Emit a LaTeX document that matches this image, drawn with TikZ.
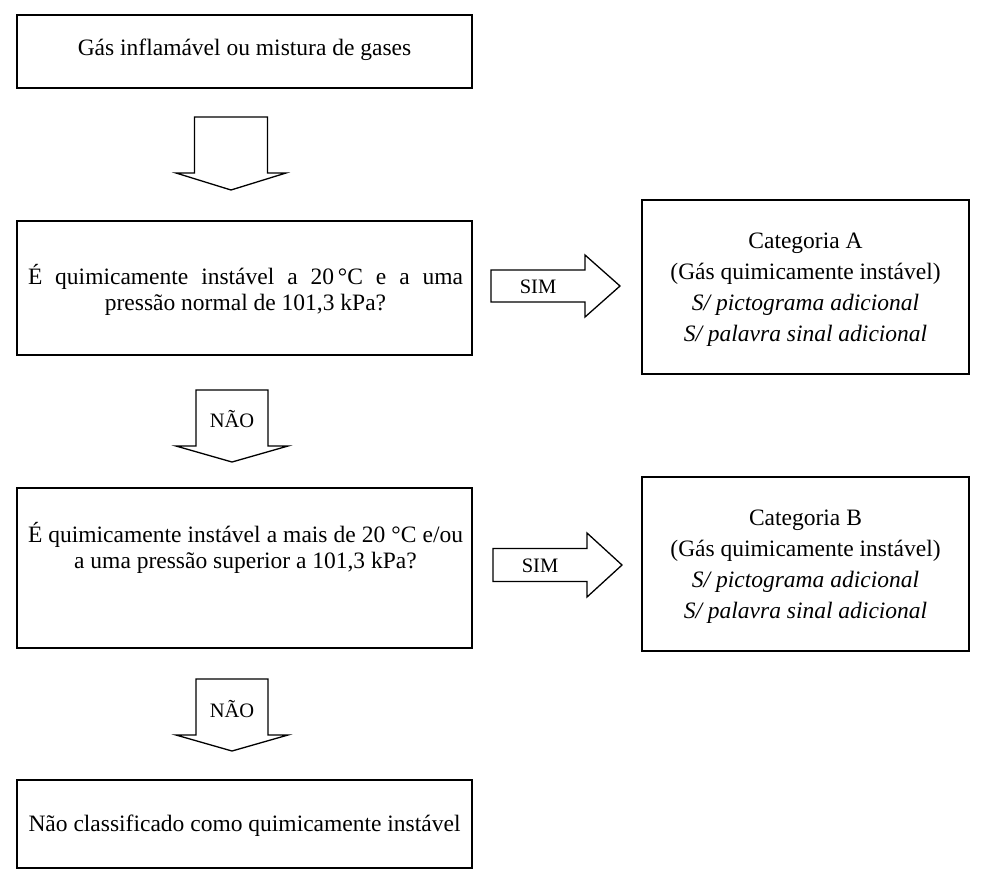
\documentclass[tikz,border=0pt]{standalone}
\usepackage{fontspec}
\setmainfont{Liberation Serif}
\newcommand\blkdown[6]{% center x, half shaft, half head, top y, wing y, tip y
  \draw[barrow] (#1-#2,#4) -- (#1+#2,#4) -- (#1+#2,#5) -- (#1+#3,#5) -- (#1,#6) -- (#1-#3,#5) -- (#1-#2,#5) -- cycle;}
\newcommand\blkright[6]{% center y, half shaft, half head, left x, base x, tip x
  \draw[barrow] (#4,#1-#2) -- (#5,#1-#2) -- (#5,#1-#3) -- (#6,#1) -- (#5,#1+#3) -- (#5,#1+#2) -- (#4,#1+#2) -- cycle;}
\begin{document}
\begin{tikzpicture}[x=1pt,y=-1pt,
  box/.style={draw, line width=1.5pt, inner sep=0pt},
  barrow/.style={draw, line width=1.3pt, line join=miter, fill=white},
  txt/.style={font=\fontsize{23.5}{26}\selectfont, align=center, inner sep=0pt},
  lbl/.style={font=\fontsize{20.5}{26}\selectfont, align=center, inner sep=0pt},
  cattxt/.style={font=\fontsize{23.5}{31}\selectfont, align=center, inner sep=0pt}]
\useasboundingbox (0,0) rectangle (984,892);
\fill[white] (0,0) rectangle (984,892);

% boxes
\node[box, minimum width=455pt, minimum height=73pt] (b1) at (244.5,51.5) {};
\node[box, minimum width=455pt, minimum height=134pt] (b2) at (244.5,288) {};
\node[box, minimum width=455pt, minimum height=160pt] (b3) at (244.5,568) {};
\node[box, minimum width=455pt, minimum height=88pt] (b4) at (244.5,824) {};
\node[box, minimum width=327pt, minimum height=174pt] (ba) at (805.5,287) {};
\node[box, minimum width=327pt, minimum height=174pt] (bb) at (805.5,564) {};

% texts
\node[txt] (t1) at (244.5,50) {Gás inflamável ou mistura de gases};
\node[txt] (t2) at (245.5,290) {\makebox[435pt][s]{É quimicamente instável a 20\,°C e a uma}\\ pressão normal de 101,3 kPa?};
\node[txt] (t3) at (245.5,548) {\makebox[435pt][s]{É quimicamente instável a mais de 20 °C e/ou}\\ a uma pressão superior a 101,3 kPa?};
\node[txt] (t4) at (244.5,826) {Não classificado como quimicamente instável};
\node[cattxt] (ta) at (805.5,290) {Categoria A\\ (Gás quimicamente instável)\\ \textit{S/ pictograma adicional}\\ \textit{S/ palavra sinal adicional}};
\node[cattxt] (tb) at (805.5,567) {Categoria B\\ (Gás quimicamente instável)\\ \textit{S/ pictograma adicional}\\ \textit{S/ palavra sinal adicional}};

% block arrows
\blkdown{231}{36.5}{55}{117}{173}{190}
\blkdown{232}{36}{56}{390}{446}{462}
\blkdown{232}{36}{56}{679}{735}{751}
\blkright{286}{16}{31}{491}{585}{620}
\blkright{565}{16.5}{32}{493}{587}{622}

% arrow labels
\node[lbl] (nao1) at (232,419) {NÃO};
\node[lbl] (nao2) at (232,709) {NÃO};
\node[lbl] (sim1) at (538,287) {SIM};
\node[lbl] (sim2) at (540,566) {SIM};
\end{tikzpicture}
\end{document}
